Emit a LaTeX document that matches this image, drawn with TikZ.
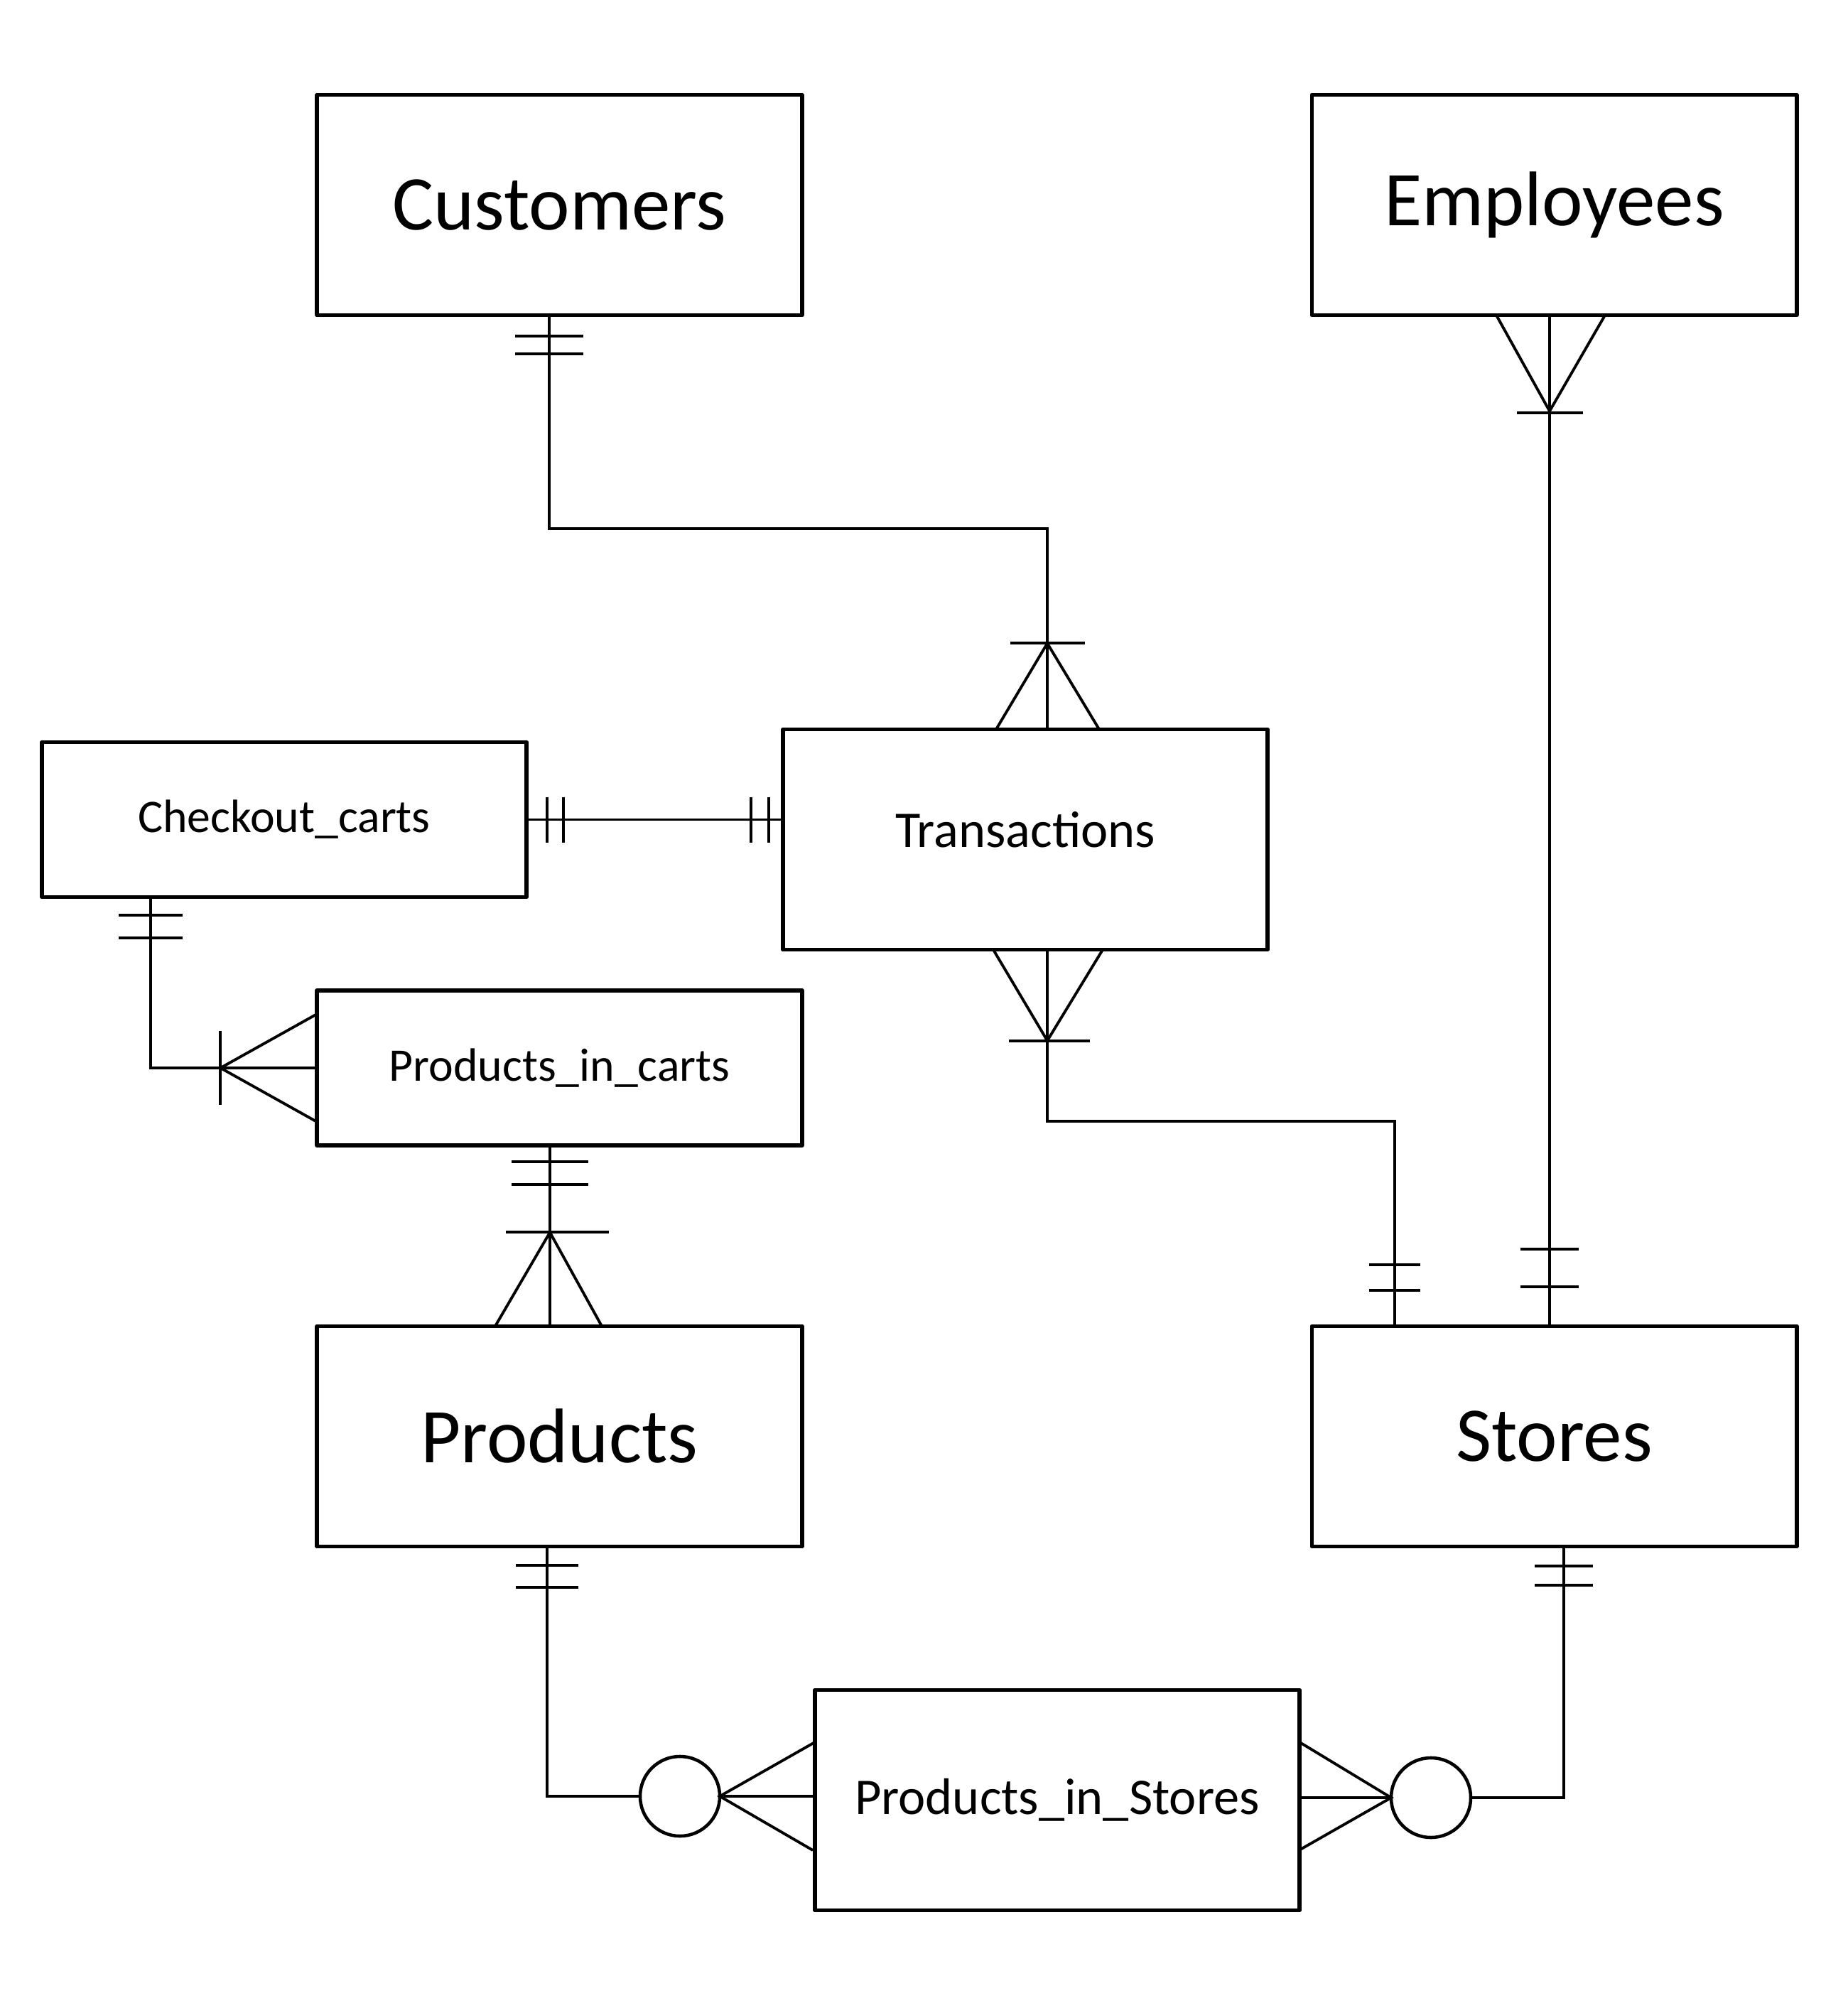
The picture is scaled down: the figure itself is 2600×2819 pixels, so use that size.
\documentclass[tikz,border=0pt]{standalone}
\usepackage{fontspec}
\setmainfont{Carlito}

\tikzset{
  box/.style={draw, line width=1.6pt, line join=round, minimum width=6.82cm,
    minimum height=3.1cm, inner sep=0pt, outer sep=0pt},
  smallbox/.style={box, minimum height=2.18cm},
  conn/.style={line width=1.1pt},
  zerocirc/.style={draw, circle, line width=1.3pt, minimum size=1.12cm,
    inner sep=0pt, outer sep=0pt},
  bigtext/.style={font=\fontsize{31}{37}\selectfont},
  midtext/.style={font=\fontsize{20.6}{25}\selectfont},
  smalltext/.style={font=\fontsize{18.7}{22}\selectfont},
}

\begin{document}
\begin{tikzpicture}[x=0.01cm, y=-0.01cm]

\useasboundingbox (0,0) rectangle (2600,2819);

% Entities
\node[box, bigtext] (cust) at (787.5,288.5) {Customers};
\node[box, bigtext] (empl) at (2187.5,288.5) {Employees};
\node[smallbox, smalltext] (cart) at (400,1153.5) {Checkout\_carts};
\node[box, midtext, text depth=0.28cm] (trans) at (1443,1181.5) {Transactions};
\node[smallbox, smalltext] (pic) at (787.5,1503) {Products\_in\_carts};
\node[box, bigtext] (prod) at (787.5,2021.5) {Products};
\node[box, bigtext] (store) at (2187.5,2021.5) {Stores};
\node[box, midtext] (pis) at (1488,2533.5) {Products\_in\_Stores};

% Zero markers
\node[zerocirc] (zl) at (957,2528) {};
\node[zerocirc] (zr) at (2014,2530) {};

% Connector ends
\coordinate (cust-s) at ([xshift=-0.145cm]cust.south);
\coordinate (trans-n) at ([xshift=0.31cm]trans.north);
\coordinate (trans-s) at ([xshift=0.31cm]trans.south);
\coordinate (store-n1) at ([xshift=-2.245cm]store.north);
\coordinate (empl-s) at ([xshift=-0.065cm]empl.south);
\coordinate (store-n2) at ([xshift=-0.065cm]store.north);
\coordinate (cart-s) at ([xshift=-1.88cm]cart.south);
\coordinate (pic-s) at ([xshift=-0.135cm]pic.south);
\coordinate (prod-n) at ([xshift=-0.135cm]prod.north);
\coordinate (prod-s) at ([xshift=-0.175cm]prod.south);
\coordinate (store-s) at ([xshift=0.135cm]store.south);

% Customers -- Transactions
\draw[conn] (cust-s) -- ++(0,300) -| (trans-n);
\draw[conn] (cust-s) ++(-48,29) -- ++(96,0) ++(-96,25) -- ++(96,0);
\draw[conn] (trans-n) ++(-72,0) -- ++(72,-121) -- ++(73,121);
\draw[conn] (trans-n) ++(-52,-121) -- ++(105,0);

% Transactions -- Stores
\draw[conn] (trans-s) -- ++(0,241) -| (store-n1);
\draw[conn] (trans-s) ++(-76,0) -- ++(76,128) -- ++(78,-128);
\draw[conn] (trans-s) ++(-54,128) -- ++(114,0);
\draw[conn] (store-n1) ++(-36,-86) -- ++(72,0) ++(-72,36) -- ++(72,0);

% Employees -- Stores
\draw[conn] (empl-s) -- (store-n2);
\draw[conn] (empl-s) ++(-75,0) -- ++(75,135) -- ++(78,-135);
\draw[conn] (empl-s) ++(-46,137) -- ++(93,0);
\draw[conn] (store-n2) ++(-41,-108) -- ++(82,0) ++(-82,53) -- ++(82,0);

% Checkout_carts -- Transactions
\draw[conn] (cart.east) -- (cart.east -| trans.west);
\draw[conn] (cart.east) ++(29,-32) -- ++(0,64) ++(23,-64) -- ++(0,64);
\draw[conn] (cart.east -| trans.west) ++(-45,-32) -- ++(0,64) ++(25,-64) -- ++(0,64);

% Checkout_carts -- Products_in_carts
\draw[conn] (cart-s) |- (pic.west);
\draw[conn] (cart-s) ++(-45,25) -- ++(90,0) ++(-90,32) -- ++(90,0);
\draw[conn] (pic.west) ++(0,-76) -- ++(-136,76) -- ++(136,76);
\draw[conn] (pic.west) ++(-136,-52) -- ++(0,104);

% Products_in_carts -- Products
\draw[conn] (pic-s) -- (prod-n);
\draw[conn] (pic-s) ++(-54,23) -- ++(108,0) ++(-108,32) -- ++(108,0);
\draw[conn] (prod-n) ++(-77,0) -- ++(77,-132) -- ++(73,132);
\draw[conn] (prod-n) ++(-62,-132) -- ++(145,0);

% Products -- Products_in_Stores
\draw[conn] (prod-s) |- (zl.west);
\draw[conn] (prod-s) ++(-44,26) -- ++(88,0) ++(-88,31) -- ++(88,0);
\draw[conn] (zl.east) -- (zl.east -| pis.west);
\draw[conn] (zl.east -| pis.west) ++(0,-76) -- (zl.east) -- ++(131,76);

% Products_in_Stores -- Stores
\draw[conn] (pis.east |- zr.west) -- (zr.west);
\draw[conn] (pis.east |- zr.west) ++(0,-78) -- (zr.west) -- ++(-128,73);
\draw[conn] (zr.east) -| (store-s);
\draw[conn] (store-s) ++(-41,27) -- ++(82,0) ++(-82,27) -- ++(82,0);

\end{tikzpicture}
\end{document}
